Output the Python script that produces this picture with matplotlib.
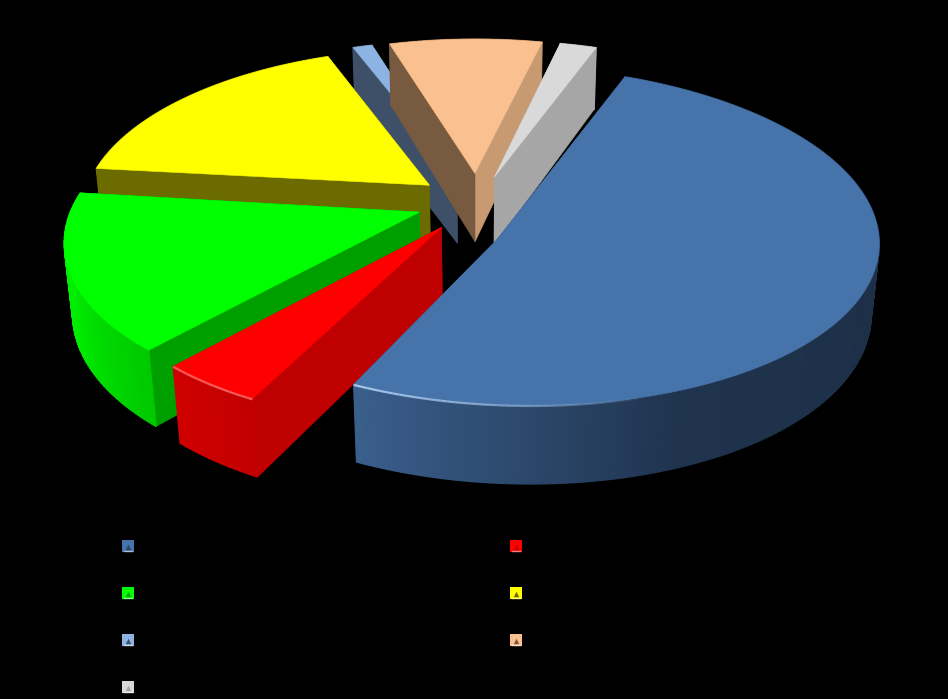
import numpy as np
import matplotlib
matplotlib.use("Agg")
import matplotlib.pyplot as plt
from matplotlib.patches import Polygon
from matplotlib.collections import LineCollection
from matplotlib.colors import to_rgb

# data
values = [50.28, 5.17, 15.17, 17.61, 1.03, 8.25, 2.5]
explode = [0.105, 0.18, 0.17, 0.17, 0.18, 0.18, 0.165]
radius_x = [0.992, 0.94, 0.96, 0.965, 1.0, 0.98, 0.995]
radius_y = [1.0, 0.965, 0.98, 1.005, 1.01, 1.01, 1.02]
trim_start = [0, 4.0, 0, 0, 0, 0, 0]
trim_end = [0, -0.5, -0.7, 0.8, 0, 0, 2.0]
apex_dx = [-0.044, 0, 0, 0, 0, 0, 0]
apex_dy = [-0.184, 0, 0, 0, 0, 0, 0]
shear = [0.03, 0, 0, 0, 0, 0, 0]
top_colors = ["#4673A9", "#FF0000", "#00FF00", "#FFFF00", "#8DB3E2", "#FAC090", "#D9D9D9"]
start_wall = ["#2A4566", "#BF0000", "#009F00", "#6B6B00", "#3D5068", "#775A40", "#A6A6A6"]
end_wall = ["#2A4566", "#BF0000", "#009F00", "#6B6B00", "#3D5068", "#C89A72", "#A6A6A6"]
rim_stops = [
    ["#2A4560", "#1F3450", "#1E3048", "#1F334E", "#3A5F8C"],
    ["#C20000", "#D00000"],
    ["#00C800", "#00EE00", "#00F000"],
    ["#6B6B00", "#6B6B00"],
    ["#3D5068", "#3D5068"],
    ["#775A40", "#775A40"],
    ["#A6A6A6", "#A6A6A6"],
]
draw_order = [4, 5, 6, 3, 2, 1, 0]
legend_x = [128, 516, 128, 516, 128, 516, 128]
legend_y = [546, 546, 593, 593, 640, 640, 687]
START_ANGLE = 22.0

# projection
CX, CY, A, B, D, P, Q = 477.0, 202.0, 360.0, 163.0, 71.0, 0.16, 0.02


def project(X, Y, Z=0.0):
    w = 1 + P * Y + Q * Z
    return CX + A * X / w, CY - B * Y / w + D * Z / w


fig = plt.figure(figsize=(9.48, 6.99), dpi=100, facecolor="black")
ax = fig.add_axes([0, 0, 1, 1])
ax.set_xlim(0, 948)
ax.set_ylim(699, 0)
ax.axis("off")

total = sum(values)
edges = START_ANGLE + np.cumsum([0] + values) / total * 360.0


def blend(stops, t):
    rgb = np.array([to_rgb(c) for c in stops])
    pos = np.linspace(0, 1, len(stops))
    return tuple(np.interp(t, pos, rgb[:, i]) for i in range(3))


def quad(pts, color, z, lw=0.4):
    ax.add_patch(Polygon(pts, closed=True, facecolor=color, edgecolor=color, lw=lw, zorder=z))


for rank, i in enumerate(draw_order):
    a0, a1 = edges[i], edges[i + 1]
    mid = np.radians((a0 + a1) / 2)
    t0, t1 = np.radians(a0 + trim_start[i]), np.radians(a1 - trim_end[i])
    ex = explode[i]
    z = 10 + rank * 5
    cx0, cy0 = ex * np.sin(mid), ex * np.cos(mid)
    apx, apy = cx0 + apex_dx[i], cy0 + apex_dy[i]
    n = max(3, int((t1 - t0) * 60))
    ts = np.linspace(t0, t1, n + 1)
    xs = cx0 + radius_x[i] * np.sin(ts)
    ys = cy0 + radius_y[i] * np.cos(ts) - shear[i] * radius_x[i] * np.sin(ts)
    front = np.cos(mid) < 0
    rim_z = z + 2 if front else z - 1

    quad([project(apx, apy), project(xs[-1], ys[-1]), project(xs[-1], ys[-1], 1), project(apx, apy, 1)], end_wall[i], z)
    quad([project(apx, apy), project(xs[0], ys[0]), project(xs[0], ys[0], 1), project(apx, apy, 1)], start_wall[i], z + 1)
    for k in range(n):
        t = (k + 0.5) / n
        quad([project(xs[k], ys[k]), project(xs[k + 1], ys[k + 1]),
              project(xs[k + 1], ys[k + 1], 1), project(xs[k], ys[k], 1)],
             blend(rim_stops[i], t), rim_z, lw=1.0)
    px, py = project(xs, ys)
    ap = project(apx, apy)
    top = np.vstack([[ap[0], ap[1]], np.column_stack([px, py])])
    quad(top, top_colors[i], z + 3)

    # bevel highlight along the front rim
    if i in (0, 1):
        light = "#A8C8F0" if i == 0 else "#FF8080"
        span = 0.22 if i == 0 else 1.0
        m = np.arange(n)
        frac = (m + 0.5) / n
        keep = frac > (1 - span)
        segs = [[(px[k], py[k] + 0.5), (px[k + 1], py[k + 1] + 0.5)] for k in m[keep]]
        a = (frac[keep] - (1 - span)) / span
        if i == 1:
            a = 0.7 * np.ones_like(a)
        else:
            a = a ** 0.7
        cols = [(*to_rgb(light), float(v)) for v in a]
        ax.add_collection(LineCollection(segs, colors=cols, linewidths=1.6, zorder=z + 4))

# legend keys
for i in range(len(values)):
    lx, ly = legend_x[i], legend_y[i]
    ax.scatter([lx], [ly], marker="s", s=70, color=top_colors[i], linewidths=0, zorder=60)
    ax.scatter([lx + 0.5], [ly + 1], marker="^", s=16, color=start_wall[i], linewidths=0, zorder=61)
    bright = tuple(0.5 * c + 0.5 for c in to_rgb(top_colors[i]))
    ax.plot([lx - 4, lx + 4], [ly + 4.5, ly + 4.5], color=bright, lw=1.0, zorder=62)

fig.savefig("out.png", dpi=100, facecolor="black")
